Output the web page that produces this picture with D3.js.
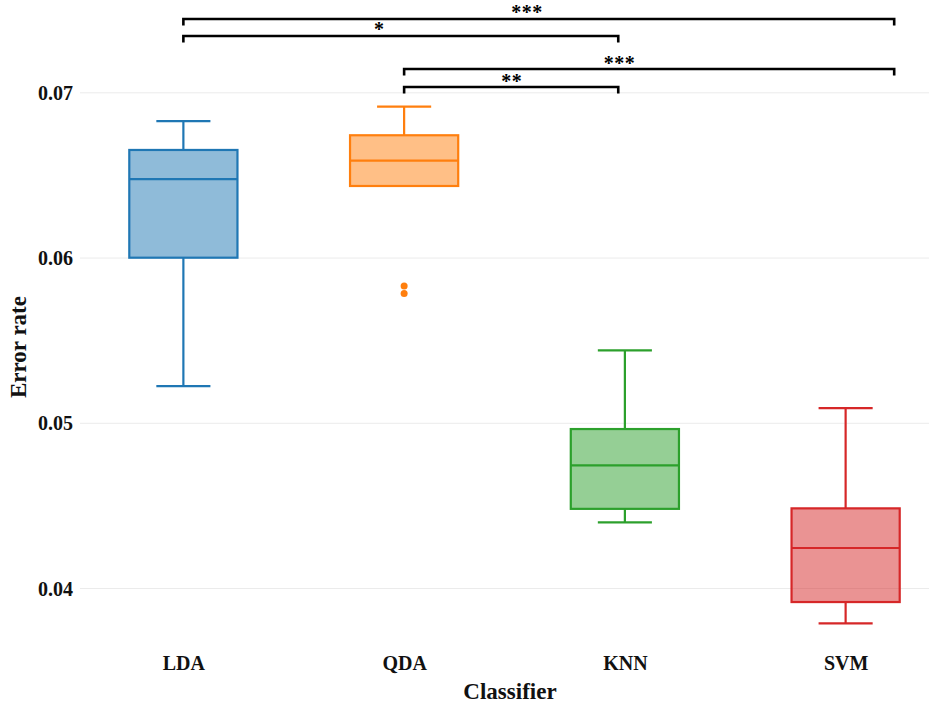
<!DOCTYPE html>
<html>
<head>
<meta charset="utf-8">
<script src="https://cdn.jsdelivr.net/npm/d3@7"></script>
<style>
  body { margin: 0; background: #fff; }
  text { font-family: "Liberation Serif", "Times New Roman", serif; font-weight: bold; }
</style>
</head>
<body>
<script>
// classifier error rates
const classifiers = ["LDA", "QDA", "KNN", "SVM"];
const colors = ["#1f77b4", "#ff7f0e", "#2ca02c", "#d62728"];
const lowerWhisker = [0.05222, 0.06433, 0.04397, 0.03786];
const q1 = [0.05999, 0.06433, 0.04479, 0.03915];
const median = [0.06475, 0.06586, 0.04742, 0.04242];
const q3 = [0.06651, 0.06740, 0.04962, 0.04482];
const upperWhisker = [0.06826, 0.06913, 0.05438, 0.05089];
const outliers = [[], [0.05827, 0.05783], [], []];
const yTicks = [0.04, 0.05, 0.06, 0.07];

// significance brackets (ends in category index units)
const bracketFrom = [0, 0, 1, 1];
const bracketTo = [3.22, 1.97, 3.22, 1.97];
const bracketLevel = [0.07444, 0.07341, 0.07141, 0.07032];
const bracketLabel = ["***", "*", "***", "**"];
const bracketLabelAt = [1.557, 0.887, 1.976, 1.487];

const W = 929, H = 703;
const svg = d3.select("body").append("svg")
  .attr("width", W)
  .attr("height", H);

let x = d3.scalePoint()
  .domain(classifiers)
  .range([73, 956])
  .padding(0.5);
let step = x.step();
let xi = d3.scaleLinear()
  .domain([0, 1])
  .range([x(classifiers[0]), x(classifiers[1])]);

let y = d3.scaleLinear()
  .domain([0.04, 0.07])
  .range([588, 92.3]);

// grid + y tick labels
let yAxis = d3.axisLeft(y)
  .tickValues(yTicks)
  .tickFormat(d3.format(".2f"))
  .tickSize(-(W - 80))
  .tickPadding(7);
let gy = svg.append("g")
  .attr("transform", "translate(80,0)")
  .call(yAxis);
gy.select(".domain").remove();
gy.selectAll(".tick line").attr("stroke", "#ebebeb").attr("stroke-width", 1);
gy.selectAll(".tick text")
  .attr("font-size", "20px")
  .attr("fill", "#111")
  .attr("dy", "0.35em");

// x axis labels
let xAxis = d3.axisBottom(x).tickSize(0).tickPadding(0);
let gx = svg.append("g")
  .attr("transform", "translate(0,656)")
  .call(xAxis);
gx.select(".domain").remove();
gx.selectAll(".tick text")
  .attr("font-size", "20px")
  .attr("fill", "#111")
  .attr("dy", "0.7em");

svg.append("text")
  .attr("x", 510)
  .attr("y", 699)
  .attr("text-anchor", "middle")
  .attr("font-size", "23px")
  .attr("fill", "#111")
  .text("Classifier");

svg.append("text")
  .attr("transform", "translate(26,347) rotate(-90)")
  .attr("text-anchor", "middle")
  .attr("font-size", "23px")
  .attr("fill", "#111")
  .text("Error rate");

// boxes
let boxW = step * 0.49;
let capW = boxW / 2;
let boxes = svg.append("g")
  .selectAll("g")
  .data(classifiers)
  .enter()
  .append("g")
  .attr("stroke", (d, i) => colors[i])
  .attr("stroke-width", 2.2);

boxes.append("line")
  .attr("x1", d => x(d)).attr("x2", d => x(d))
  .attr("y1", (d, i) => y(upperWhisker[i]))
  .attr("y2", (d, i) => y(q3[i]));
boxes.append("line")
  .attr("x1", d => x(d)).attr("x2", d => x(d))
  .attr("y1", (d, i) => y(lowerWhisker[i]))
  .attr("y2", (d, i) => y(q1[i]));
boxes.append("line")
  .attr("x1", d => x(d) - capW / 2).attr("x2", d => x(d) + capW / 2)
  .attr("y1", (d, i) => y(upperWhisker[i]))
  .attr("y2", (d, i) => y(upperWhisker[i]));
boxes.append("line")
  .attr("x1", d => x(d) - capW / 2).attr("x2", d => x(d) + capW / 2)
  .attr("y1", (d, i) => y(lowerWhisker[i]))
  .attr("y2", (d, i) => y(lowerWhisker[i]));
boxes.append("rect")
  .attr("x", d => x(d) - boxW / 2)
  .attr("width", boxW)
  .attr("y", (d, i) => y(q3[i]))
  .attr("height", (d, i) => y(q1[i]) - y(q3[i]))
  .attr("fill", (d, i) => colors[i])
  .attr("fill-opacity", 0.5);
boxes.append("line")
  .attr("x1", d => x(d) - boxW / 2).attr("x2", d => x(d) + boxW / 2)
  .attr("y1", (d, i) => y(median[i]))
  .attr("y2", (d, i) => y(median[i]));

boxes.each(function (d, i) {
  d3.select(this).selectAll("circle")
    .data(outliers[i])
    .enter()
    .append("circle")
    .attr("cx", x(d))
    .attr("cy", v => y(v))
    .attr("r", 3.5)
    .attr("stroke", "none")
    .attr("fill", colors[i]);
});

// significance brackets
let sig = svg.append("g");
bracketLevel.forEach((lv, i) => {
  let yy = y(lv);
  let x1 = xi(bracketFrom[i]), x2 = xi(bracketTo[i]);
  sig.append("path")
    .attr("d", `M${x1},${yy + 6.5}V${yy}H${x2}V${yy + 6.5}`)
    .attr("fill", "none")
    .attr("stroke", "#000")
    .attr("stroke-width", 2.6);
  sig.append("text")
    .attr("x", xi(bracketLabelAt[i]))
    .attr("y", yy + 0.5)
    .attr("text-anchor", "middle")
    .attr("font-size", "20px")
    .attr("letter-spacing", "0.5px")
    .attr("fill", "#000")
    .text(bracketLabel[i]);
});
</script>
</body>
</html>
